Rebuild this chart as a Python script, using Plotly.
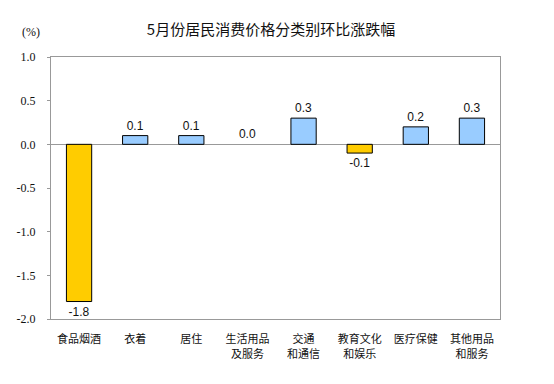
import plotly.graph_objects as go

categories = ["食品烟酒", "衣着", "居住", "生活用品<br>及服务", "交通<br>和通信", "教育文化<br>和娱乐", "医疗保健", "其他用品<br>和服务"]
values = [-1.8, 0.1, 0.1, 0.0, 0.3, -0.1, 0.2, 0.3]
labels = ["-1.8", "0.1", "0.1", "0.0", "0.3", "-0.1", "0.2", "0.3"]
colors = ["#FFCC00" if v < 0 else "#99CCFF" for v in values]
outline_widths = [0 if v == 0 else 1 for v in values]
y_ticks = [1.0, 0.5, 0.0, -0.5, -1.0, -1.5, -2.0]
y_tick_text = ["1.0", "0.5", "0.0", "-0.5", "-1.0", "-1.5", "-2.0"]

fig = go.Figure(go.Bar(
    x=categories, y=values, marker=dict(color=colors, line=dict(color="black", width=outline_widths)),
    text=labels, textposition="outside", cliponaxis=False,
    textfont=dict(family="Liberation Sans, Arial", size=12, color="#111"),
))

fig.update_layout(
    width=554, height=384,
    margin=dict(l=43, r=62, t=49, b=73, autoexpand=False),
    paper_bgcolor="white", plot_bgcolor="white",
    bargap=0.55, showlegend=False,
    title=dict(text="5月份居民消费价格分类别环比涨跌幅", x=263 / 554, xref="container", xanchor="center",
               y=1 - 22 / 384, yref="container", yanchor="middle",
               font=dict(family="Noto Sans CJK SC", size=15, color="#111")),
    font=dict(family="Noto Sans CJK SC", color="#111"),
)
fig.update_xaxes(showline=True, linecolor="#999", mirror=True, linewidth=1, ticks="", automargin=False,
                 tickfont=dict(family="Noto Sans CJK SC", size=11, color="#111"), ticklabelstandoff=10)
fig.update_yaxes(range=[-2.0, 1.0], tickvals=y_ticks, ticktext=y_tick_text, showgrid=False, automargin=False,
                 showline=True, linecolor="#999", mirror=True, linewidth=1,
                 ticks="outside", ticklen=3, tickcolor="#999",
                 zeroline=True, zerolinecolor="#999", zerolinewidth=1,
                 tickfont=dict(family="Liberation Serif, Times New Roman", size=12, color="#111"),
                 ticklabelstandoff=9)
fig.add_annotation(text="(%)", xref="paper", yref="paper", x=-0.045, y=1.095, showarrow=False,
                   xanchor="center", yanchor="middle",
                   font=dict(family="Liberation Serif, Times New Roman", size=12, color="#111"))
fig.write_html("out.html")
